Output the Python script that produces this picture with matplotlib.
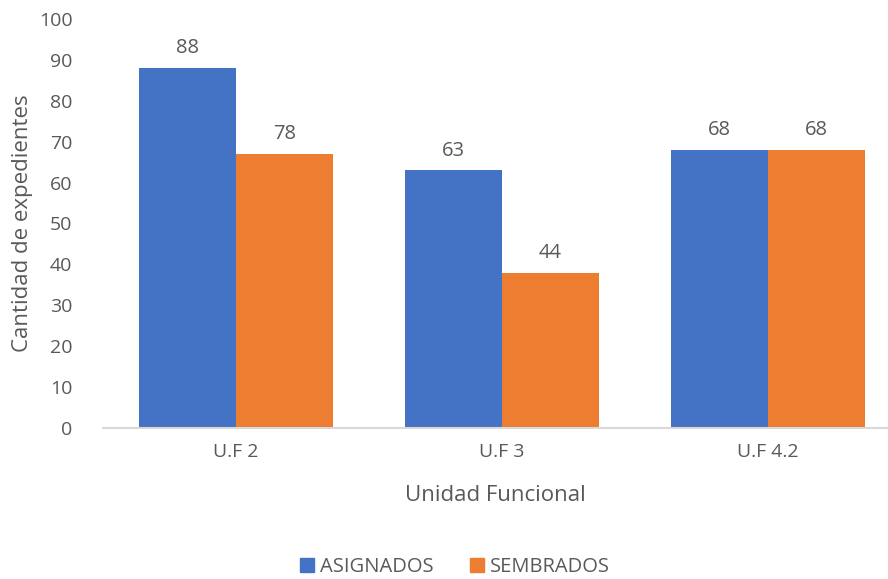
import numpy as np
import matplotlib
matplotlib.use("Agg")
import matplotlib.pyplot as plt
from matplotlib.patches import Patch

categories = ["U.F 2", "U.F 3", "U.F 4.2"]
asignados = [88, 63, 68]
sembrados = [67, 38, 68]
# the labels printed above the bars (as shown in the original)
asignados_labels = ["88", "63", "68"]
sembrados_labels = ["78", "44", "68"]

blue = "#4472C4"
orange = "#ED7D31"
gray = "#595959"

plt.rcParams['font.family'] = ['Open Sans', 'DejaVu Sans']

fig = plt.figure(figsize=(8.88, 5.79), dpi=100)
ax = fig.add_axes([103 / 888, 1 - 428 / 579, 1 - 103 / 888, (428 - 19) / 579])

x = np.arange(len(categories))
w = 97 / 266
b1 = ax.bar(x - w / 2, asignados, w, color=blue)
b2 = ax.bar(x + w / 2, sembrados, w, color=orange)

for bars, labels in ((b1, asignados_labels), (b2, sembrados_labels)):
    for bar, lab in zip(bars, labels):
        ax.annotate(lab, (bar.get_x() + bar.get_width() / 2, bar.get_height()),
                    xytext=(0, 7), textcoords="offset points",
                    ha="center", va="bottom", fontsize=14.5, color=gray)

ax.set_xlim(-0.5, 2 + 120 / 266)
ax.set_ylim(0, 100)
ax.set_yticks(range(0, 101, 10))
ax.set_xticks(x)
ax.set_xticklabels(categories)
ax.tick_params(axis="both", length=0, labelsize=14, labelcolor=gray)
ax.tick_params(axis="y", pad=22)
ax.tick_params(axis="x", pad=11)

for s in ("top", "right", "left"):
    ax.spines[s].set_visible(False)
ax.spines["bottom"].set_color("#D9D9D9")
ax.spines["bottom"].set_linewidth(1.5)

ax.set_ylabel("Cantidad de expedientes", fontsize=16, color=gray, labelpad=4)
ax.set_xlabel("Unidad Funcional", fontsize=16, color=gray, labelpad=17)

handles = [Patch(color=blue, label="ASIGNADOS"), Patch(color=orange, label="SEMBRADOS")]
fig.legend(handles=handles, loc="center", bbox_to_anchor=(455 / 888, 1 - 567 / 579),
           ncol=2, frameon=False, fontsize=14.5, handlelength=0.7, handleheight=0.7,
           handletextpad=0.3, columnspacing=1.8, labelcolor=gray)

fig.savefig("out.png", dpi=100)
